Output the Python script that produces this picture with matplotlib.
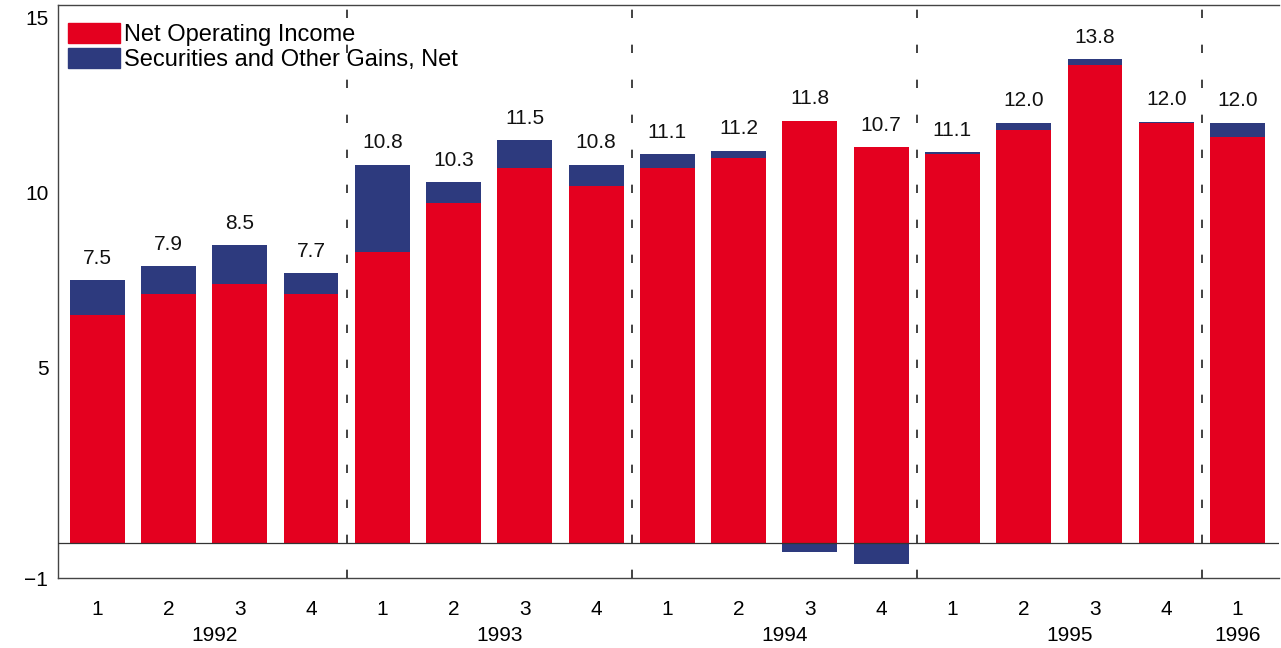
import numpy as np
import matplotlib.pyplot as plt
from matplotlib.patches import Patch

plt.rcParams['font.family'] = ['Liberation Sans', 'DejaVu Sans']

# Quarterly data, 1992 Q1 - 1996 Q1
quarters = ['1', '2', '3', '4', '1', '2', '3', '4', '1', '2', '3', '4',
            '1', '2', '3', '4', '1']
years = ['1992', '1993', '1994', '1995', '1996']
year_sizes = [4, 4, 4, 4, 1]
net_operating = [6.5, 7.1, 7.4, 7.1, 8.3, 9.7, 10.7, 10.2, 10.7, 11.0,
                 12.05, 11.3, 11.1, 11.8, 13.65, 12.0, 11.6]
securities = [1.0, 0.8, 1.1, 0.6, 2.5, 0.6, 0.8, 0.6, 0.4, 0.2,
              -0.25, -0.6, 0.05, 0.2, 0.15, 0.03, 0.4]
total_labels = ['7.5', '7.9', '8.5', '7.7', '10.8', '10.3', '11.5', '10.8',
                '11.1', '11.2', '11.8', '10.7', '11.1', '12.0', '13.8',
                '12.0', '12.0']

red = '#E4001F'
blue = '#2D3A7E'
fs = 15

net = np.array(net_operating)
sec = np.array(securities)
x = np.arange(len(net))

fig = plt.figure(figsize=(12.81, 6.48), dpi=100)
ax = fig.add_axes([0.0453, 0.108, 0.953, 0.884])

ax.bar(x, net, width=0.77, color=red, edgecolor='none')
# positive gains stack on top, negative ones hang below zero
sec_bottom = np.where(sec >= 0, net, 0)
ax.bar(x, sec, width=0.77, bottom=sec_bottom, color=blue, edgecolor='none')

ax.axhline(0, color='#333333', lw=0.9, zorder=3)

# labels above each bar
tops = np.maximum(net + np.clip(sec, 0, None), net)
for xi, top, lab in zip(x, tops, total_labels):
    ax.annotate(lab, (xi, top), xytext=(0, 9), textcoords='offset points',
                ha='center', va='bottom', fontsize=fs, color='#111111')

# dashed separators between years
edges = np.cumsum(year_sizes)[:-1] - 0.5
for e in edges:
    ax.axvline(e, color='#222222', lw=1.2, ls=(0, (5, 16)))

ax.set_xlim(-0.55, len(x) - 0.42)
ax.set_ylim(-1, 15.35)
ax.set_yticks([-1, 5, 10, 15])
ax.set_yticklabels(['\u22121', '5', '10', '15'], fontsize=fs)
ax.tick_params(axis='y', length=0, pad=7)

ax.set_xticks(x)
ax.set_xticklabels(quarters, fontsize=fs)
ax.tick_params(axis='x', length=0, pad=16)

# year labels under the quarter labels
start = 0
for yr, n in zip(years, year_sizes):
    center = start + (n - 1) / 2
    if n > 1:
        center += 0.15
    ax.text(center, -0.1, yr, transform=ax.get_xaxis_transform(),
            ha='center', va='center', fontsize=fs)
    start += n

for s in ax.spines.values():
    s.set_color('#444444')
    s.set_linewidth(1.0)
ax.spines['right'].set_visible(False)

handles = [Patch(color=red), Patch(color=blue)]
ax.legend(handles, ['Net Operating Income', 'Securities and Other Gains, Net'],
          loc='upper left', frameon=False, fontsize=17, handlelength=2.2,
          handleheight=0.95, handletextpad=0.15, labelspacing=0.08,
          borderaxespad=0.35, bbox_to_anchor=(-0.006, 1.0))

fig.savefig('out.png', dpi=100)
